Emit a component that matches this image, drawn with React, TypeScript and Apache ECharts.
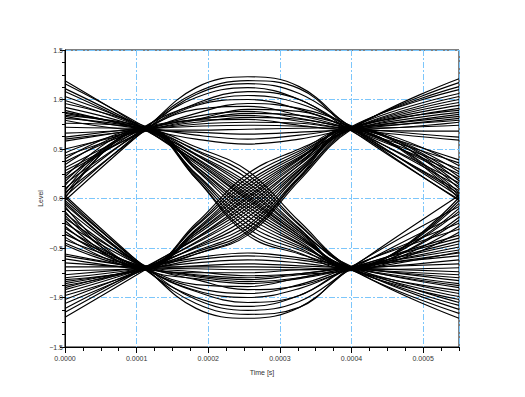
import React, { useEffect, useRef } from "react";
import * as echarts from "echarts";

const times = [0, 0.000112, 0.000183, 0.000255, 0.000327, 0.000398, 0.00055];

// + -> + traces (upper arcs)
const upperArcs: number[][] = [
  [-0.02, 0.7, 1.12, 1.23, 1.13, 0.72, -0.02],
  [0.02, 0.71, 1.07, 1.19, 1.11, 0.7, -0.01],
  [0.06, 0.69, 1.05, 1.16, 1.06, 0.73, 0.02],
  [0.1, 0.72, 1.02, 1.12, 1.0, 0.71, 0.05],
  [0.15, 0.7, 0.96, 1.08, 1.0, 0.69, 0.08],
  [0.2, 0.73, 0.95, 1.04, 0.96, 0.72, 0.12],
  [0.25, 0.7, 0.94, 1.0, 0.9, 0.7, 0.16],
  [0.28, 0.68, 0.86, 0.96, 0.91, 0.74, 0.2],
  [0.31, 0.71, 0.9, 0.93, 0.84, 0.7, 0.25],
  [0.37, 0.72, 0.8, 0.9, 0.88, 0.71, 0.3],
  [0.43, 0.7, 0.83, 0.88, 0.81, 0.7, 0.36],
  [0.5, 0.69, 0.79, 0.86, 0.84, 0.73, 0.39],
  [0.58, 0.71, 0.8, 0.84, 0.78, 0.7, 0.59],
  [0.6, 0.7, 0.77, 0.82, 0.8, 0.72, 0.62],
  [0.62, 0.72, 0.79, 0.8, 0.74, 0.69, 0.68],
  [0.66, 0.7, 0.75, 0.77, 0.76, 0.71, 0.74],
  [0.72, 0.71, 0.73, 0.74, 0.73, 0.7, 0.77],
  [0.79, 0.69, 0.69, 0.7, 0.71, 0.72, 0.79],
  [0.83, 0.7, 0.67, 0.65, 0.67, 0.7, 0.81],
  [0.86, 0.72, 0.64, 0.6, 0.64, 0.71, 0.83],
  [0.89, 0.7, 0.6, 0.55, 0.6, 0.7, 0.85],
];

// + -> - traces (falling transitions)
const fallingTraces: number[][] = [
  [0.76, 0.71, 0.52, 0.28, -0.23, -0.7, -1.21],
  [0.81, 0.7, 0.49, 0.24, -0.26, -0.71, -1.16],
  [0.84, 0.72, 0.48, 0.2, -0.27, -0.69, -1.12],
  [0.87, 0.69, 0.45, 0.16, -0.3, -0.72, 0.01],
  [0.92, 0.7, 0.44, 0.13, -0.31, -0.7, -1.08],
  [0.96, 0.73, 0.44, 0.1, -0.33, -0.71, -0.02],
  [0.99, 0.7, 0.41, 0.07, -0.33, -0.68, -1.05],
  [1.03, 0.71, 0.4, 0.04, -0.35, -0.7, -0.05],
  [1.08, 0.69, 0.38, 0.02, -0.37, -0.72, -1.02],
  [1.11, 0.7, 0.37, 0.0, -0.37, -0.7, -0.1],
  [1.16, 0.72, 0.37, -0.02, -0.39, -0.71, -0.99],
  [1.19, 0.7, 0.35, -0.05, -0.39, -0.69, -0.13],
  [0.46, 0.68, 0.32, -0.08, -0.41, -0.7, -0.96],
  [0.4, 0.71, 0.32, -0.11, -0.43, -0.71, -0.19],
  [0.34, 0.7, 0.3, -0.14, -0.45, -0.72, -0.93],
  [0.22, 0.72, 0.29, -0.18, -0.46, -0.7, -0.22],
  [0.17, 0.69, 0.25, -0.22, -0.48, -0.69, -0.9],
  [0.13, 0.7, 0.24, -0.26, -0.5, -0.71, -0.28],
  [0.08, 0.71, 0.22, -0.3, -0.52, -0.7, -0.88],
  [0.04, 0.7, 0.2, -0.34, -0.55, -0.72, -0.34],
  [0.0, 0.73, 0.2, -0.37, -0.56, -0.7, -0.86],
];

// - -> + traces (rising transitions)
const risingTraces: number[][] = [
  [-0.08, -0.7, -0.25, 0.25, 0.5, 0.7, 0.87],
  [-0.13, -0.71, -0.27, 0.21, 0.48, 0.71, 0.33],
  [-0.17, -0.69, -0.28, 0.17, 0.46, 0.72, 0.89],
  [-0.22, -0.72, -0.31, 0.14, 0.44, 0.7, 0.27],
  [-0.28, -0.7, -0.32, 0.11, 0.42, 0.69, 0.91],
  [-0.33, -0.7, -0.33, 0.08, 0.41, 0.71, 0.22],
  [-0.39, -0.71, -0.35, 0.05, 0.4, 0.7, 0.94],
  [-0.45, -0.68, -0.35, 0.02, 0.39, 0.72, 0.18],
  [-0.47, -0.7, -0.37, 0.0, 0.37, 0.7, 0.97],
  [-1.2, -0.72, -0.4, -0.03, 0.36, 0.71, 0.14],
  [-1.15, -0.7, -0.4, -0.06, 0.34, 0.7, 1.0],
  [-1.11, -0.69, -0.41, -0.09, 0.34, 0.73, 0.1],
  [-1.06, -0.71, -0.44, -0.12, 0.31, 0.7, 1.03],
  [-1.02, -0.7, -0.45, -0.15, 0.29, 0.69, 0.06],
  [-0.98, -0.72, -0.48, -0.19, 0.28, 0.71, 1.06],
  [-0.95, -0.7, -0.49, -0.23, 0.26, 0.7, 0.03],
  [-0.92, -0.69, -0.5, -0.27, 0.25, 0.72, 1.1],
  [-0.88, -0.71, -0.53, -0.3, 0.22, 0.7, 0.0],
  [-0.86, -0.7, -0.54, -0.33, 0.21, 0.71, 1.13],
  [-0.82, -0.72, -0.56, -0.35, 0.2, 0.7, 1.17],
  [-0.8, -0.7, -0.56, -0.37, 0.18, 0.69, 1.21],
];

// - -> - traces (lower arcs)
const lowerArcs: number[][] = [
  [0.03, -0.7, -1.11, -1.21, -1.1, -0.71, 0.03],
  [0.01, -0.71, -1.06, -1.17, -1.1, -0.7, -0.08],
  [-0.02, -0.69, -1.02, -1.13, -1.04, -0.72, -0.16],
  [-0.04, -0.72, -1.0, -1.09, -0.98, -0.7, -0.25],
  [-0.06, -0.7, -0.94, -1.05, -0.98, -0.69, -0.31],
  [-0.1, -0.7, -0.93, -1.0, -0.91, -0.71, -0.37],
  [-0.15, -0.71, -0.9, -0.96, -0.87, -0.7, -0.4],
  [-0.2, -0.68, -0.82, -0.92, -0.88, -0.72, -0.43],
  [-0.25, -0.7, -0.87, -0.89, -0.8, -0.7, -0.46],
  [-0.3, -0.72, -0.81, -0.86, -0.81, -0.71, -0.49],
  [-0.36, -0.7, -0.79, -0.84, -0.8, -0.7, -0.52],
  [-0.42, -0.69, -0.78, -0.82, -0.77, -0.73, -0.54],
  [-0.56, -0.71, -0.77, -0.8, -0.76, -0.7, -0.55],
  [-0.58, -0.7, -0.74, -0.78, -0.76, -0.69, -0.58],
  [-0.61, -0.72, -0.75, -0.75, -0.72, -0.71, -0.62],
  [-0.65, -0.7, -0.71, -0.72, -0.72, -0.7, -0.66],
  [-0.69, -0.69, -0.69, -0.69, -0.7, -0.72, -0.7],
  [-0.73, -0.71, -0.68, -0.66, -0.68, -0.7, -0.74],
  [-0.77, -0.7, -0.65, -0.62, -0.65, -0.71, -0.77],
  [-0.84, -0.72, -0.62, -0.58, -0.62, -0.7, -0.8],
  [-0.9, -0.7, -0.6, -0.55, -0.6, -0.69, -0.83],
];

const X_MIN = 0;
const X_MAX = 0.00055;
const X_STEP = 0.0001;
const X_MINOR = 0.000025;
const Y_MIN = -1.5;
const Y_MAX = 1.5;
const Y_STEP = 0.5;

const FONT = "'Liberation Sans', Arial, sans-serif";
const TEXT = "#333";

export default function App() {
  const ref = useRef<HTMLDivElement>(null);

  useEffect(() => {
    if (!ref.current) return;
    const chart = echarts.init(ref.current, undefined, { renderer: "svg" });
    const all = [...upperArcs, ...fallingTraces, ...risingTraces, ...lowerArcs];
    const gridLine = {
      show: true,
      lineStyle: { color: "#7cc6fb", width: 1, type: [6, 2, 2, 2] as any },
    };
    chart.setOption({
      animation: false,
      backgroundColor: "#fff",
      grid: {
        left: 65,
        right: 66,
        top: 50,
        bottom: 50,
        show: true,
        borderColor: "#000",
        borderWidth: 1,
        backgroundColor: "transparent",
      },
      xAxis: [
        {
          type: "value",
          min: X_MIN,
          max: X_MAX,
          interval: X_STEP,
          position: "bottom",
          name: "Time [s]",
          nameLocation: "middle",
          nameGap: 22,
          nameMoveOverlap: false,
          nameTextStyle: { color: TEXT, fontSize: 7, fontFamily: FONT },
          axisLine: { onZero: false, lineStyle: { color: "#000", width: 1 } },
          axisTick: { show: true, length: 6, lineStyle: { color: "#000" } },
          axisLabel: {
            color: TEXT,
            fontSize: 7,
            fontFamily: FONT,
            margin: 8,
            showMaxLabel: false,
            formatter: (v: number) => {
              const k = v / X_STEP;
              if (Math.abs(k - Math.round(k)) > 1e-6) return "";
              return v.toFixed(4);
            },
          },
          splitLine: gridLine,
        },
        {
          type: "value",
          min: X_MIN,
          max: X_MAX,
          interval: X_MINOR,
          position: "bottom",
          axisLine: { show: false, onZero: false },
          axisTick: { show: true, length: 4, lineStyle: { color: "#000" } },
          axisLabel: { show: false },
          splitLine: { show: false },
        },
      ],
      yAxis: {
        type: "value",
        min: Y_MIN,
        max: Y_MAX,
        interval: Y_STEP,
        name: "Level",
        nameLocation: "middle",
        nameGap: 21,
        nameMoveOverlap: false,
        nameTextStyle: { color: TEXT, fontSize: 7, fontFamily: FONT },
        axisLine: { show: true, lineStyle: { color: "#000", width: 1 } },
        axisTick: { show: true, length: 5, lineStyle: { color: "#000" } },
        minorTick: { show: true, splitNumber: 4, length: 3, lineStyle: { color: "#000" } },
        axisLabel: {
          color: TEXT,
          fontSize: 7,
          fontFamily: FONT,
          margin: 2,
          formatter: (v: number) => (v < 0 ? "\u2212" : "") + Math.abs(v).toFixed(1),
        },
        splitLine: gridLine,
      },
      series: all.map((tr, i) => ({
        type: "line",
        name: "trace" + i,
        xAxisIndex: 0,
        data: times.map((t, j) => [t, tr[j]]),
        smooth: 0.4,
        symbol: "none",
        silent: true,
        lineStyle: { color: "#000", width: 1.15 },
        z: 3,
      })),
    });
    return () => chart.dispose();
  }, []);

  return (
    <div
      ref={ref}
      style={{ position: "absolute", left: 0, top: 0, width: 525, height: 397, background: "#fff" }}
    />
  );
}
